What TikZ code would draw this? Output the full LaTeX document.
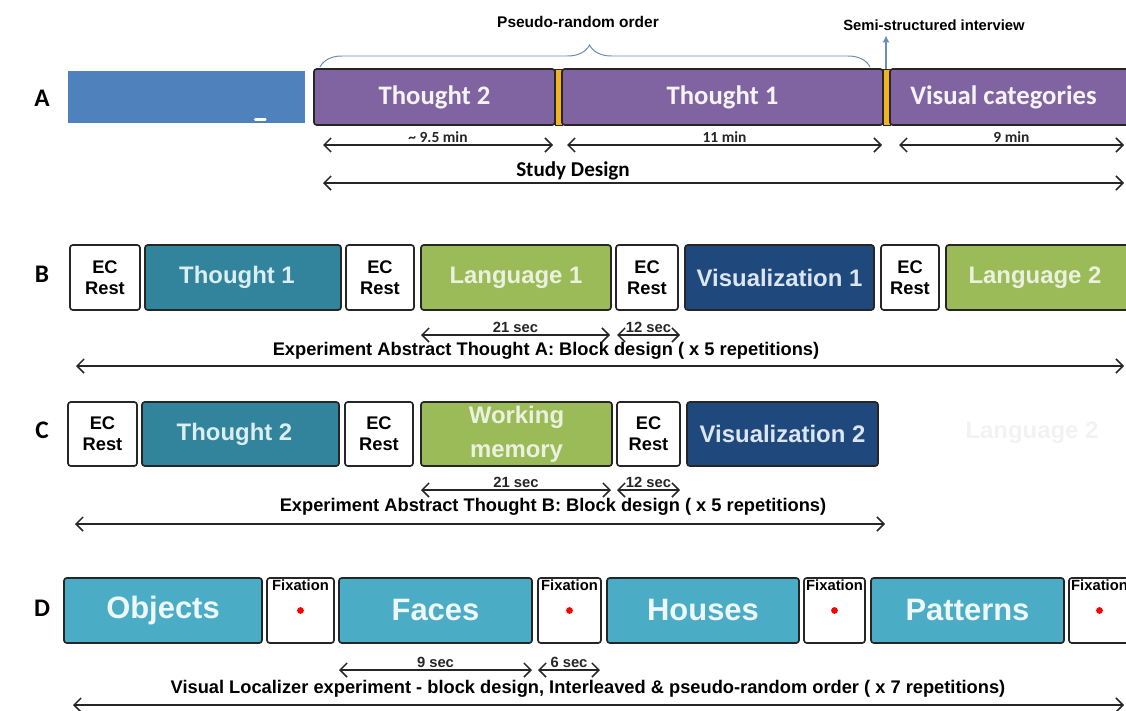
\documentclass[tikz,border=0pt]{standalone}
\usepackage{fontspec}
\setmainfont{Liberation Sans}
\newfontfamily\calfont{Carlito}
\usetikzlibrary{arrows.meta,decorations.pathreplacing,calc}

\definecolor{studyblue}{HTML}{4F81BD}
\definecolor{studypurple}{HTML}{8064A2}
\definecolor{studyorange}{HTML}{F0B323}
\definecolor{thoughtcol}{HTML}{31849B}
\definecolor{thoughttxt}{HTML}{DAEEF3}
\definecolor{langcol}{HTML}{9BBB59}
\definecolor{langtxt}{HTML}{EBF1DE}
\definecolor{viscol}{HTML}{1F497D}
\definecolor{vistxt}{HTML}{DCE6F2}
\definecolor{loccol}{HTML}{4BACC6}
\definecolor{loctxt}{HTML}{EEF8FB}
\definecolor{bracecol}{HTML}{6B8CB5}

\tikzset{
  blk/.style={draw=black!85, line width=1.2pt, rounded corners=2pt, inner sep=0pt,
    outer sep=0pt, minimum height=1.625cm, align=center},
  ecbox/.style={blk, fill=white, font=\fontsize{13}{15}\selectfont\bfseries},
  thoughtbox/.style={blk, fill=thoughtcol, text=thoughttxt, font=\fontsize{17}{24}\selectfont\bfseries},
  langbox/.style={blk, fill=langcol, text=langtxt, font=\fontsize{17}{24}\selectfont\bfseries},
  visbox/.style={blk, fill=viscol, text=vistxt, font=\fontsize{17}{24}\selectfont\bfseries},
  locbox/.style={blk, fill=loccol, text=loctxt, font=\fontsize{22}{26}\selectfont\bfseries},
  fixbox/.style={blk, fill=white,
    label={[anchor=north, inner sep=1pt, font=\fontsize{10.5}{12}\selectfont\bfseries]north:Fixation},
    label={[circle, fill=red, inner sep=1.7pt]center:{}}},
  studybox/.style={blk, minimum height=1.4cm, fill=studypurple, text=white!92!studypurple,
    font=\calfont\fontsize{19}{22}\selectfont\bfseries},
  sepbar/.style={blk, minimum height=1.4cm, line width=0.6pt, rounded corners=0pt,
    fill=studyorange, minimum width=0.175cm},
  rowlbl/.style={font=\calfont\fontsize{18}{20}\selectfont\bfseries},
  durtxt/.style={font=\fontsize{10.5}{12}\selectfont\bfseries, inner sep=1pt},
  studydur/.style={font=\calfont\fontsize{11}{13}\selectfont\bfseries, inner sep=1pt},
  captxt/.style={font=\fontsize{13}{15}\selectfont\bfseries},
  dim/.style={{Straight Barb[length=5pt,width=10pt]}-{Straight Barb[length=5pt,width=10pt]},
    line width=1.1pt, black!85}
}

\begin{document}
\begin{tikzpicture}[x=0.025cm, y=-0.025cm]
\useasboundingbox (0,0) rectangle (1126,711);

% A: study design
\node[rowlbl] (lblA) at (42,98) {A};
\node[fill=studyblue, minimum width=5.925cm, minimum height=1.3cm, inner sep=0pt] (intro) at (186.5,97) {};
\draw[white, line width=2pt, line cap=round] ($(intro.south east)+(-50,-4)$) -- ++(10,0);
\node[studybox, minimum width=6.025cm] (studyB) at (434.5,97) {Thought 2};
\node[sepbar] (barA) at (558.5,97) {};
\node[studybox, minimum width=8.025cm] (studyA) at (722.5,97) {Thought 1};
\node[sepbar] (barB) at (886.5,97) {};
\node[studybox, minimum width=6.125cm] (studyV) at (1012.5,97) {\hspace*{-0.45cm}Visual categories};

\node[font=\fontsize{11}{13}\selectfont\bfseries] (pseudo) at (578,22) {Pseudo-random order};
\draw[bracecol, line width=0.7pt, decorate, decoration={brace, amplitude=0.55cm, aspect=0.49}]
  (320,67) -- (870,67);
\node[font=\fontsize{10.5}{12}\selectfont\bfseries] (semi) at (934,25) {Semi-structured interview};
\coordinate (semiarr) at (886,69);
\draw[bracecol, line width=1pt, -{Latex[length=5pt,width=5pt]}] (semiarr) -- (semiarr |- semi.south);

\coordinate (t2l) at (323,145); \coordinate (t2r) at (553,145);
\coordinate (t1l) at (567,145); \coordinate (t1r) at (882,145);
\coordinate (vcl) at (899,145); \coordinate (vcr) at (1124,145);
\draw[dim] (t2l) -- node[studydur, above] (durT2) {\textasciitilde\ 9.5 min} (t2r);
\draw[dim] (t1l) -- node[studydur, above] (durT1) {11 min} (t1r);
\draw[dim] (vcl) -- node[studydur, above] (durVC) {9 min} (vcr);
\node[rowlbl, font=\calfont\fontsize{15}{18}\selectfont\bfseries] (design) at (573,171) {Study Design};
\coordinate (sdl) at (323,183); \coordinate (sdr) at (1124,183);
\draw[dim] (sdl) -- (sdr);

% B: abstract thought A
\node[rowlbl] (lblB) at (42,274) {B};
\node[ecbox, minimum width=1.75cm] (b1) at (105,277.5) {EC\\Rest};
\node[thoughtbox, minimum width=4.9cm] (b2) at (243,277.5) {\hspace*{-0.3cm}Thought 1};
\node[ecbox, minimum width=1.7cm] (b3) at (380,277.5) {EC\\Rest};
\node[langbox, minimum width=4.75cm] (b4) at (516,277.5) {Language 1};
\node[ecbox, minimum width=1.55cm] (b5) at (647,277.5) {EC\\Rest};
\node[visbox, minimum width=4.725cm] (b6) at (779.5,277.5) {Visualization 1};
\node[ecbox, minimum width=1.45cm] (b7) at (910,277.5) {EC\\Rest};
\node[langbox, minimum width=4.85cm] (b8) at (1043,277.5) {\hspace*{-0.4cm}Language 2};

\coordinate (b21l) at (421,335); \coordinate (b21r) at (610,335);
\coordinate (b12l) at (617,335); \coordinate (b12r) at (680,335);
\draw[dim] (b21l) -- node[durtxt, above] (durB21) {21 sec} (b21r);
\draw[dim] (b12l) -- node[durtxt, above] (durB12) {12 sec} (b12r);
\node[captxt] (capB) at (546,351) {Experiment Abstract Thought A: Block design ( x 5 repetitions)};
\coordinate (bl) at (76,366); \coordinate (br) at (1124,366);
\draw[dim] (bl) -- (br);

% C: abstract thought B
\node[rowlbl] (lblC) at (42,430) {C};
\node[ecbox, minimum width=1.725cm, minimum height=1.6cm] (c1) at (102.5,434) {EC\\Rest};
\node[thoughtbox, minimum width=4.925cm, minimum height=1.6cm] (c2) at (240.5,434) {\hspace*{-0.3cm}Thought 2};
\node[ecbox, minimum width=1.7cm, minimum height=1.6cm] (c3) at (379,434) {EC\\Rest};
\node[langbox, minimum width=4.775cm, minimum height=1.6cm] (c4) at (516.5,434) {Working\\memory};
\node[ecbox, minimum width=1.575cm, minimum height=1.6cm] (c5) at (648.5,434) {EC\\Rest};
\node[visbox, minimum width=4.775cm, minimum height=1.6cm] (c6) at (782.5,434) {Visualization 2};
\node[font=\fontsize{17}{20}\selectfont\bfseries, text=black!5] (ghost) at (1032,433) {Language 2};

\coordinate (c21l) at (421,490); \coordinate (c21r) at (611,490);
\coordinate (c12l) at (617,490); \coordinate (c12r) at (680,490);
\draw[dim] (c21l) -- node[durtxt, above] (durC21) {21 sec} (c21r);
\draw[dim] (c12l) -- node[durtxt, above] (durC12) {12 sec} (c12r);
\node[captxt] (capC) at (553,507) {Experiment Abstract Thought B: Block design ( x 5 repetitions)};
\coordinate (cl) at (75,524); \coordinate (cr) at (885,524);
\draw[dim] (cl) -- (cr);

% D: visual localizer
\node[rowlbl] (lblD) at (42,608) {D};
\node[locbox, minimum width=4.95cm] (d1) at (163,610.5) {Objects};
\node[fixbox, minimum width=1.675cm] (d2) at (300.5,610.5) {};
\node[locbox, minimum width=4.825cm] (d3) at (435.5,610.5) {Faces};
\node[fixbox, minimum width=1.575cm] (d4) at (569.5,610.5) {};
\node[locbox, minimum width=4.8cm] (d5) at (703,610.5) {Houses};
\node[fixbox, minimum width=1.525cm] (d6) at (834.5,610.5) {};
\node[locbox, minimum width=4.825cm] (d7) at (967.5,610.5) {Patterns};
\node[fixbox, minimum width=1.525cm] (d8) at (1099.5,610.5) {};

\coordinate (d9l) at (339,670); \coordinate (d9r) at (532,670);
\coordinate (d6l) at (538,670); \coordinate (d6r) at (600,670);
\draw[dim] (d9l) -- node[durtxt, above] (durD9) {9 sec} (d9r);
\draw[dim] (d6l) -- node[durtxt, above] (durD6) {6 sec} (d6r);
\node[captxt] (capD) at (588,689) {Visual Localizer experiment - block design, Interleaved \& pseudo-random order ( x 7 repetitions)};
\coordinate (dl) at (73,705); \coordinate (dr) at (1124,705);
\draw[dim] (dl) -- (dr);
\end{tikzpicture}
\end{document}
